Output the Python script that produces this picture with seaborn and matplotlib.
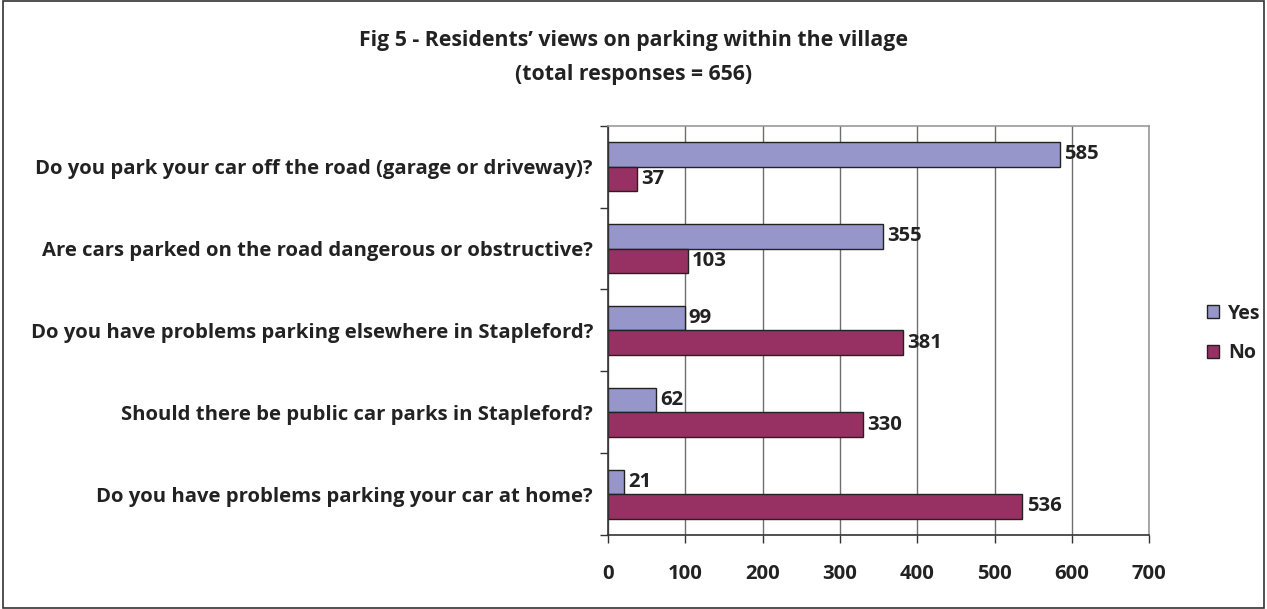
import pandas as pd
import matplotlib.pyplot as plt
import seaborn as sns
from matplotlib.patches import Rectangle

# Datos
questions = [
    'Do you park your car off the road (garage or driveway)?',
    'Are cars parked on the road dangerous or obstructive?',
    'Do you have problems parking elsewhere in Stapleford?',
    'Should there be public car parks in Stapleford?',
    'Do you have problems parking your car at home?',
]
yes_counts = [585, 355, 99, 62, 21]
no_counts = [37, 103, 381, 330, 536]
answers = ['Yes', 'No']
colors = ['#9696CB', '#983163']
xticks = [0, 100, 200, 300, 400, 500, 600, 700]

df = pd.DataFrame({
    'Question': questions * 2,
    'Answer': ['Yes'] * len(questions) + ['No'] * len(questions),
    'Count': yes_counts + no_counts,
})

sns.set_style('white')
plt.rcParams['font.family'] = ['Open Sans', 'DejaVu Sans']
plt.rcParams['font.weight'] = 'bold'
fs = 14.6
txt_color = '#222222'

fig = plt.figure(figsize=(12.67, 6.09), dpi=100)
ax = fig.add_axes([0.48, 0.1215, 0.427, 0.672])

sns.barplot(data=df, y='Question', x='Count', hue='Answer', order=questions,
            hue_order=answers, palette=colors, orient='h', width=0.6,
            edgecolor='#222222', linewidth=1.0, saturation=1, ax=ax)

for cont in ax.containers:
    ax.bar_label(cont, padding=3, fontsize=fs, fontweight='bold', color=txt_color)

ax.set_xlim(0, 700)
ax.set_ylim(4.5, -0.5)
ax.set_xticks(xticks)
ax.set_xticklabels([str(t) for t in xticks], fontsize=fs, fontweight='bold', color=txt_color)
ax.xaxis.grid(True, color='#6e6e6e', linewidth=1.0)
ax.set_axisbelow(True)

# ticks del eje Y entre categorías (estilo Excel)
ax.set_yticks(range(len(questions)))
ax.set_yticklabels(questions, fontsize=fs, fontweight='bold', color=txt_color)
ax.tick_params(axis='y', which='major', length=0, pad=11)
ax.set_yticks([i - 0.5 for i in range(len(questions) + 1)], minor=True)
ax.tick_params(axis='y', which='minor', length=6, width=1, color='#333333', direction='out', left=True)
ax.tick_params(axis='x', length=6, width=1, color='#333333', direction='out', bottom=True, pad=15)

for side in ['left', 'bottom']:
    ax.spines[side].set_color('#333333')
    ax.spines[side].set_linewidth(1.2)
for side in ['top', 'right']:
    ax.spines[side].set_color('#9a9a9a')
    ax.spines[side].set_linewidth(1.2)

ax.set_xlabel('')
ax.set_ylabel('')

leg = ax.legend(loc='center left', bbox_to_anchor=(1.088, 0.493), frameon=False, borderpad=0,
                prop={'size': 14, 'weight': 'bold'}, handlelength=0.65, handleheight=0.65,
                handletextpad=0.45, labelspacing=1.0)
for t in leg.get_texts():
    t.set_color(txt_color)

fig.text(0.5, 0.933, 'Fig 5 - Residents\u2019 views on parking within the village',
         ha='center', va='center', fontsize=15.3, fontweight='bold', color=txt_color)
fig.text(0.5, 0.878, '(total responses = 656)',
         ha='center', va='center', fontsize=15.3, fontweight='bold', color=txt_color)

fig.patches.append(Rectangle((0.002, 0.002), 0.996, 0.996, transform=fig.transFigure,
                             fill=False, edgecolor='#333333', linewidth=1.2))

fig.savefig('out.png', dpi=100)
